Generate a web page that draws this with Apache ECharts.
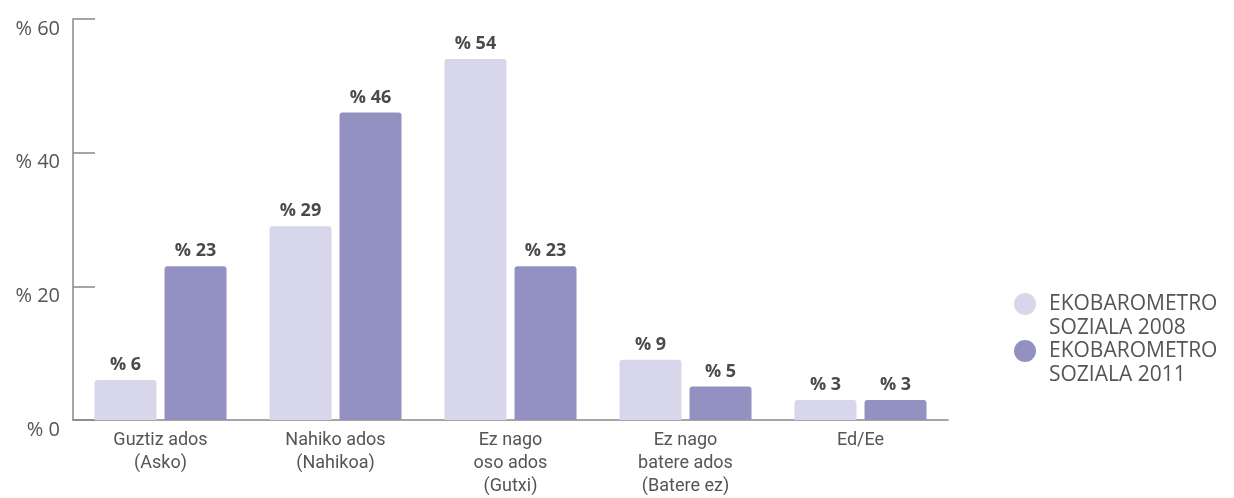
<!DOCTYPE html>
<html>
<head>
<meta charset="utf-8">
<script src="https://cdn.jsdelivr.net/npm/echarts@6/dist/echarts.min.js"></script>
<style>
  html, body { margin: 0; padding: 0; background: #fff; }
  #chart { width: 1234px; height: 498px; }
</style>
</head>
<body>
<div id="chart"></div>
<script>
var categories = ['Guztiz ados\n(Asko)', 'Nahiko ados\n(Nahikoa)', 'Ez nago\noso ados\n(Gutxi)', 'Ez nago\nbatere ados\n(Batere ez)', 'Ed/Ee']
var values2008 = [6, 29, 54, 9, 3]
var values2011 = [23, 46, 23, 5, 3]
var seriesNames = ['EKOBAROMETRO\nSOZIALA 2008', 'EKOBAROMETRO\nSOZIALA 2011']
var yTicks = [0, 20, 40, 60]

var chart = echarts.init(document.getElementById('chart'))

var barLabel = {
  show: true,
  position: 'top',
  distance: 6,
  formatter: '% {c}',
  color: '#4a4a4a',
  fontFamily: 'Open Sans',
  fontWeight: 'bold',
  fontSize: 18
}

chart.setOption({
  animation: false,
  grid: { left: 73, right: 286, top: 19, bottom: 78 },
  legend: {
    orient: 'vertical',
    left: 1009,
    top: 263,
    itemWidth: 22,
    itemHeight: 22,
    itemGap: -25,
    icon: 'circle',
    data: seriesNames,
    // leading empty line keeps the dot level with the first text line
    formatter: function (name) { return '\n' + name },
    textStyle: {
      color: '#555',
      fontFamily: 'Open Sans',
      fontSize: 21,
      lineHeight: 24,
      padding: [0, 0, 0, 8]
    }
  },
  xAxis: {
    type: 'category',
    data: categories,
    axisLine: { lineStyle: { color: '#888', width: 1.5 } },
    axisTick: { show: false },
    axisLabel: {
      color: '#555',
      fontFamily: 'Roboto',
      fontSize: 18,
      lineHeight: 23,
      margin: 9
    }
  },
  yAxis: {
    type: 'value',
    min: 0,
    max: 60,
    interval: 20,
    splitLine: { show: false },
    axisLine: { show: true, lineStyle: { color: '#888', width: 1.5 } },
    axisTick: { show: true, inside: true, length: 22, lineStyle: { color: '#888', width: 1.5 } },
    axisLabel: {
      color: '#555',
      fontFamily: 'Open Sans',
      fontSize: 20,
      margin: 13,
      verticalAlign: 'top',
      formatter: function (v) { return yTicks.indexOf(v) >= 0 ? '% ' + v : '' }
    }
  },
  series: [
    {
      name: seriesNames[0],
      type: 'bar',
      data: values2008,
      barWidth: 62,
      barGap: '13%',
      itemStyle: { color: '#d8d6ea', borderRadius: [3, 3, 0, 0] },
      label: barLabel
    },
    {
      name: seriesNames[1],
      type: 'bar',
      data: values2011,
      barWidth: 62,
      barGap: '13%',
      itemStyle: { color: '#9391c2', borderRadius: [3, 3, 0, 0] },
      label: barLabel
    }
  ]
})
</script>
</body>
</html>
